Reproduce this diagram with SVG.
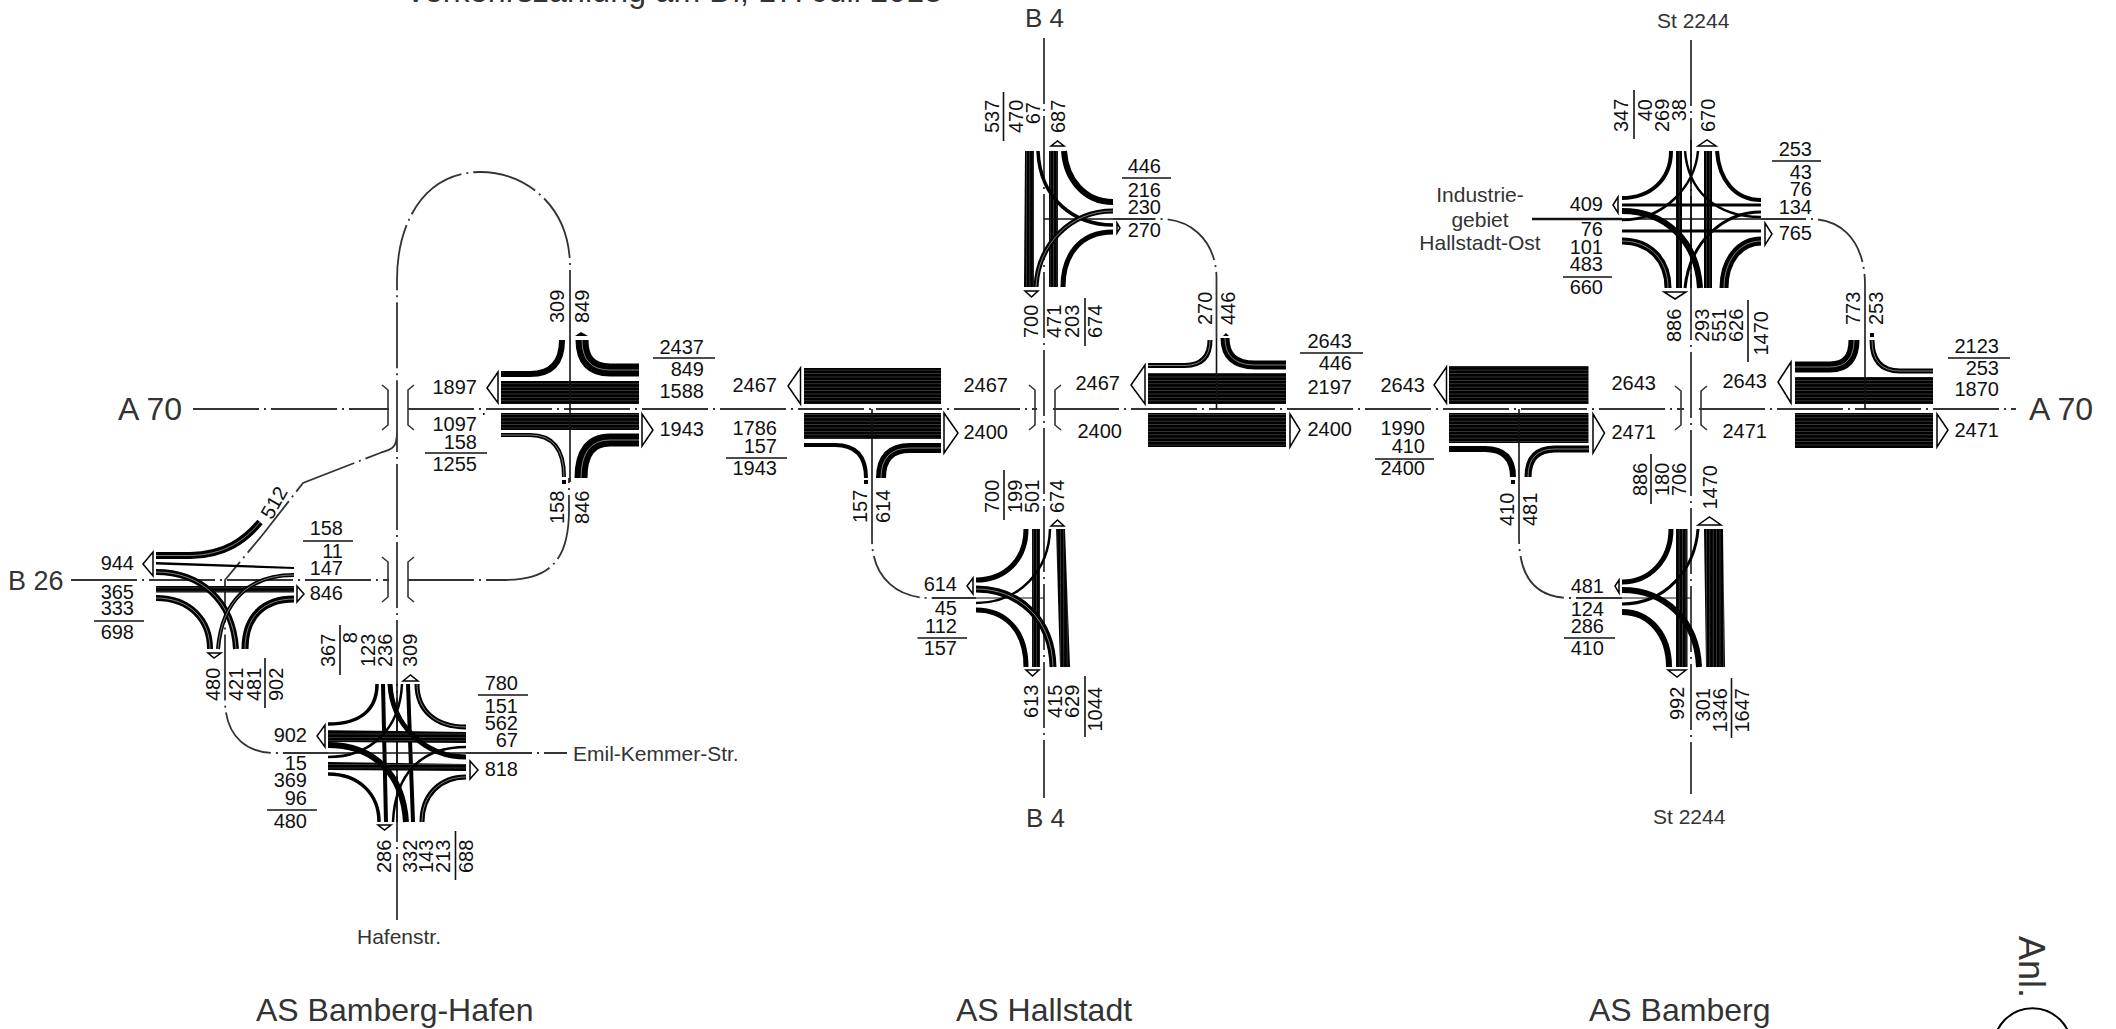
<svg xmlns="http://www.w3.org/2000/svg" width="2116" height="1029" viewBox="0 0 2116 1029">
<style>
text{font-family:"Liberation Sans",Arial,sans-serif;fill:#111;font-size:20px}
.n{fill:#333}
.l{font-size:21px;fill:#333}
.b{font-size:32px;fill:#333}
.e{text-anchor:end}
.m{text-anchor:middle}
.c{fill:none;stroke:#333;stroke-width:1.8;stroke-dasharray:66 5 2 5}
.s{fill:none;stroke:#111;stroke-width:1.6}
.g{fill:none;stroke:#333;stroke-width:1.6}
.r{fill:none;stroke:#000}
.w{fill:none;stroke:#fff;stroke-width:.7;stroke-opacity:.7}
.a{fill:#fff;stroke:#000;stroke-width:1.5}
.k{stroke:#111;stroke-width:1.6}
.h{fill:url(#hs)}
.v{fill:url(#vs)}
</style>
<defs>
<pattern id="hs" patternUnits="userSpaceOnUse" width="8" height="3.4"><rect width="8" height="3.4" fill="#000"/><rect y="2.9" width="8" height=".5" fill="#666"/></pattern>
<pattern id="vs" patternUnits="userSpaceOnUse" width="3.4" height="8"><rect width="3.4" height="8" fill="#000"/><rect x="2.9" width=".5" height="8" fill="#666"/></pattern>
</defs>
<g id="labels">
<text x="405" y="2" class="b" textLength="537">Verkehrszählung am Di, 17. Juli 2018</text>
<text x="118" y="420" class="b">A 70</text>
<text x="2029" y="420" class="b">A 70</text>
<text x="8" y="590" class="n" style="font-size:27px">B 26</text>
<text x="1025" y="27" class="n" style="font-size:26px">B 4</text>
<text x="1026" y="827" class="n" style="font-size:26px">B 4</text>
<text x="1657" y="28" class="l">St 2244</text>
<text x="1653" y="824" class="l">St 2244</text>
<text x="573" y="761" class="l">Emil-Kemmer-Str.</text>
<text x="357" y="944" class="l">Hafenstr.</text>
<text x="1480" y="202" class="l m">Industrie-</text>
<text x="1480" y="227" class="l m">gebiet</text>
<text x="1480" y="250" class="l m">Hallstadt-Ost</text>
<text x="256" y="1021" class="b">AS Bamberg-Hafen</text>
<text x="956" y="1021" class="b">AS Hallstadt</text>
<text x="1589" y="1021" class="b">AS Bamberg</text>
<text transform="rotate(90 2019 936)" x="2019" y="936" class="n" style="font-size:36px">Anl.</text>
<circle cx="2032.5" cy="1047" r="38.8" fill="none" stroke="#000" stroke-width="2"/>
<text transform="rotate(90 2022 1027)" x="2022" y="1027" style="font-size:34px">1</text>
</g>
<g id="connectors">
<path class="c" d="M193,409H389"/>
<path class="c" d="M408,409H1037"/>
<path class="c" d="M1053,409H1684"/>
<path class="c" d="M1699,409H2016"/>
<path class="c" d="M71,580H389"/>
<path class="c" d="M408,580H505C550,580 569,560 569,510V478"/>
<path class="c" d="M397,920V432C397,452 388,449 380,453L303,483L264,533L225,580V700C225,735 245,753 275,753H328"/>
<path class="c" d="M570,336V267C570,205 525,172 480,172C430,172 397,215 397,280V432"/>
<path class="c" d="M466,753H567"/>
<path class="c" d="M1044,38V798"/>
<path class="c" d="M1691,40V794"/>
<path class="c" d="M872,478V540C872,575 895,598 930,598H976"/>
<path class="c" d="M1519,478V537C1519,570 1530,598 1570,598H1622"/>
<path class="c" d="M1216.5,338V277C1216,245 1195,219 1160,219H1113"/>
<path class="c" d="M1865,340V285C1865,245 1845,219 1810,219H1761"/>
<path class="s" d="M1532,219H1622" style="stroke-width:2.4"/>
</g>
<g id="as-hafen-a70">
<path class="g" d="M382,385L388,390V425L382,430M414,385L408,390V425L414,430"/>
<path class="g" d="M382,557L388,562V597L382,602M414,557L408,562V597L414,602"/>
<rect class="h" x="501" y="381" width="138" height="23"/>
<rect class="h" x="501" y="413" width="138" height="17"/>
<path class="r" stroke-width="6" d="M501,374H530Q562,374 562,340"/>
<path class="r" stroke-width="13" d="M639,370H610Q582,370 582,340"/><path class="w" d="M639,370H610Q582,370 582,340"/>
<path class="r" stroke-width="4" d="M501,435H530Q564,435 564,477"/><path class="w" d="M501,435H530Q564,435 564,477"/>
<path class="r" stroke-width="13" d="M639,440H610Q581,440 581,478"/><path class="w" d="M639,440H610Q581,440 581,478"/>
<path class="s" d="M570,336V482"/>
<polygon class="a" points="498,372 487,388 498,403"/>
<polygon class="a" points="642,414 653,430 642,446"/>
<polygon points="575,336 581,332 588,336"/>
<rect x="562" y="480" width="4" height="4"/>
<rect x="483" y="413" width="1.6" height="2"/>
<text x="704" y="354" class="e">2437</text><path class="k" d="M653,358H715"/>
<text x="704" y="376" class="e">849</text><text x="704" y="398" class="e">1588</text><text x="704" y="436" class="e">1943</text>
<text x="477" y="394" class="e">1897</text><text x="477" y="431" class="e">1097</text><text x="477" y="449" class="e">158</text><path class="k" d="M425,453H487"/><text x="477" y="471" class="e">1255</text>
<text transform="rotate(-90 564 323)" x="564" y="323">309</text><text transform="rotate(-90 589 323)" x="589" y="323">849</text>
<text transform="rotate(-90 564 524)" x="564" y="524">158</text><text transform="rotate(-90 589 524)" x="589" y="524">846</text>
</g>
<g id="as-hafen-b26">
<rect class="h" x="156" y="586" width="138" height="6.5"/>
<path class="r" stroke-width="7" d="M156,555.5H190C225,555 245,540 260,522"/><path class="w" d="M156,555.5H190C225,555 245,540 260,522"/>
<polygon points="156,562 294,567 294,569 156,564.5"/>
<path class="r" stroke-width="6" d="M156,572C200,572 233,600 236,649"/><path class="w" d="M156,572C200,572 233,600 236,649"/>
<path class="r" stroke-width="6" d="M156,598C190,598 210,620 210,649"/><path class="w" d="M156,598C190,598 210,620 210,649"/>
<path class="r" stroke-width="4" d="M294,575C250,575 222,600 218,649"/><path class="w" d="M294,575C250,575 222,600 218,649"/>
<path class="r" stroke-width="7" d="M294,599C265,599 245,615 245,649"/><path class="w" d="M294,599C265,599 245,615 245,649"/>
<polygon class="a" points="208,653 221,653 214,658"/>
<polygon class="a" points="153,552 143,564 153,576"/>
<polygon class="a" points="297,586 304,594 297,602"/>
<text x="134" y="570" class="e">944</text><text x="134" y="599" class="e">365</text><text x="134" y="615" class="e">333</text><path class="k" d="M94,621H144"/><text x="134" y="639" class="e">698</text>
<text x="343" y="535" class="e">158</text><path class="k" d="M303,541H353"/><text x="343" y="558" class="e">11</text><text x="343" y="575" class="e">147</text><text x="343" y="600" class="e">846</text>
<text transform="rotate(-60 280 506)" x="280" y="506" class="m">512</text>
<text transform="rotate(-90 220 701)" x="220" y="701">480</text><text transform="rotate(-90 242.5 701)" x="242.5" y="701">421</text><text transform="rotate(-90 261 701)" x="261" y="701">481</text><text transform="rotate(-90 283 701)" x="283" y="701">902</text><path class="k" d="M265,658V708"/>
</g>
<g id="as-hafen-emil">
<path class="r" stroke-width="4" d="M383,684L386,822"/><path class="r" stroke-width="4" d="M408,684L413,822"/>
<path class="s" d="M328,753H466"/><path class="s" d="M397,684V822"/>
<polygon points="328,730 466,732 466,743 328,742" class="h"/>
<polygon points="328,762 466,764 466,771 328,770" class="h"/>
<path class="r" stroke-width="3.5" d="M328,724C360,724 377,710 377,684"/>
<path class="r" stroke-width="5" d="M466,727C435,727 417,710 417,684"/><path class="w" d="M466,727C435,727 417,710 417,684"/>
<path class="r" stroke-width="5" d="M466,777C440,777 422,795 422,822"/><path class="w" d="M466,777C440,777 422,795 422,822"/>
<path class="r" stroke-width="3.5" d="M328,774C360,774 379,795 379,822"/>
<path class="r" stroke-width="6" d="M328,745C375,745 403,775 406,822"/>
<path class="r" stroke-width="5" d="M390,684C392,725 425,757 466,757"/>
<path class="r" stroke-width="2.5" d="M466,747C420,747 395,775 393,822"/>
<path class="r" stroke-width="2.5" d="M328,757C370,757 400,730 402,684"/>
<polygon class="a" points="403,681 410.5,675 418,681"/>
<polygon class="a" points="325,725 317,736 325,747"/>
<polygon class="a" points="470,761 478,770 470,779"/>
<polygon class="a" points="378,825 391,825 384.5,830"/>
<text transform="rotate(-90 335 667)" x="335" y="667">367</text><path class="k" d="M340,625V675"/><text transform="rotate(-90 357 632)" x="357" y="632" class="e">8</text><text transform="rotate(-90 375 667)" x="375" y="667">123</text><text transform="rotate(-90 392 667)" x="392" y="667">236</text><text transform="rotate(-90 417 667)" x="417" y="667">309</text>
<text x="518" y="690" class="e">780</text><path class="k" d="M478,695H528"/><text x="518" y="713" class="e">151</text><text x="518" y="730" class="e">562</text><text x="518" y="747" class="e">67</text><text x="518" y="776" class="e">818</text>
<text x="307" y="742" class="e">902</text><text x="307" y="770" class="e">15</text><text x="307" y="787" class="e">369</text><text x="307" y="805" class="e">96</text><path class="k" d="M267,810H317"/><text x="307" y="828" class="e">480</text>
<text transform="rotate(-90 391 873)" x="391" y="873">286</text><text transform="rotate(-90 417 873)" x="417" y="873">332</text><text transform="rotate(-90 432.5 873)" x="432.5" y="873">143</text><text transform="rotate(-90 450 873)" x="450" y="873">213</text><path class="k" d="M455.5,831V880"/><text transform="rotate(-90 473 873)" x="473" y="873">688</text>
</g>
<g id="as-hallstadt-west">
<rect class="h" x="804" y="368" width="137" height="36"/>
<rect class="h" x="804" y="413" width="137" height="26"/>
<path class="r" stroke-width="4" d="M804,445H835Q866,445 866,478"/>
<path class="r" stroke-width="10" d="M941,448H910Q881,448 881,478"/><path class="w" d="M941,448H910Q881,448 881,478"/>
<path class="s" d="M872,409V478"/><rect x="864" y="480" width="4" height="4"/>
<polygon class="a" points="800.5,368 788,386 800.5,404"/>
<polygon class="a" points="944,413 958,433 944,453"/>
<text x="777" y="392" class="e">2467</text><text x="1008" y="392" class="e">2467</text><text x="1008" y="439" class="e">2400</text>
<text x="777" y="435" class="e">1786</text><text x="777" y="453" class="e">157</text><path class="k" d="M726,458H787"/><text x="777" y="475" class="e">1943</text>
<text transform="rotate(-90 867 523)" x="867" y="523">157</text><text transform="rotate(-90 890 523)" x="890" y="523">614</text>
</g>
<g id="as-hallstadt-east">
<path class="g" d="M1029,385L1035,390V425L1029,430M1061,385L1055,390V425L1061,430"/>
<rect class="h" x="1148" y="373" width="138" height="31"/>
<rect class="h" x="1148" y="413" width="138" height="34"/>
<path class="r" stroke-width="5" d="M1148,365.5H1185Q1210,365 1210,340"/><path class="w" d="M1148,365.5H1185Q1210,365 1210,340"/>
<path class="r" stroke-width="9" d="M1286,365H1255Q1225,365 1225,338"/><path class="w" d="M1286,365H1255Q1225,365 1225,338"/>
<path class="s" d="M1216.5,338V409"/>
<polygon points="1223,336 1226,333 1229,336"/>
<polygon class="a" points="1145,365 1131,385 1145,404"/>
<polygon class="a" points="1290,414 1300,430 1290,447"/>
<text x="1120" y="390" class="e">2467</text><text x="1122" y="438" class="e">2400</text>
<text x="1352" y="348" class="e">2643</text><path class="k" d="M1300,353H1363"/><text x="1352" y="370" class="e">446</text><text x="1352" y="394" class="e">2197</text><text x="1352" y="436" class="e">2400</text>
<text transform="rotate(-90 1212 325)" x="1212" y="325">270</text><text transform="rotate(-90 1235 325)" x="1235" y="325">446</text>
</g>
<g id="b4-north">
<polygon class="v" points="1025,151 1034,151 1034,287 1024,287"/>
<rect class="v" x="1049" y="151" width="9" height="136"/>
<path class="s" d="M1044,219H1113"/>
<path class="r" stroke-width="3.5" d="M1038,151C1040,200 1075,225 1113,225"/>
<path class="r" stroke-width="5" d="M1036,287C1038,245 1070,211 1113,211"/><path class="w" d="M1036,287C1038,245 1070,211 1113,211"/>
<path class="r" stroke-width="6" d="M1064,151C1066,180 1085,202 1113,202"/>
<path class="r" stroke-width="5" d="M1063,287C1063,255 1080,232 1113,232"/>
<polygon class="a" points="1051,146 1057.5,141 1064,146"/>
<polygon class="a" points="1025,291 1038,291 1031.5,297"/>
<polygon class="a" points="1117,223 1120,228 1117,233"/>
<text transform="rotate(-90 999 133)" x="999" y="133">537</text><path class="k" d="M1003.5,92V141"/><text transform="rotate(-90 1022.5 133)" x="1022.5" y="133">470</text><text transform="rotate(-90 1040 102)" x="1040" y="102" class="e">67</text><text transform="rotate(-90 1065 133)" x="1065" y="133">687</text>
<text transform="rotate(-90 1038 338)" x="1038" y="338">700</text><text transform="rotate(-90 1061 338)" x="1061" y="338">471</text><text transform="rotate(-90 1079 338)" x="1079" y="338">203</text><path class="k" d="M1085,298V346"/><text transform="rotate(-90 1102 338)" x="1102" y="338">674</text>
<text x="1161" y="173" class="e">446</text><path class="k" d="M1122,178H1171"/><text x="1161" y="197" class="e">216</text><text x="1161" y="214" class="e">230</text><text x="1161" y="237" class="e">270</text>
</g>
<g id="b4-south">
<rect class="v" x="1032" y="529" width="8" height="138"/>
<polygon class="v" points="1056,529 1065,529 1070,667 1060,667"/>
<path class="s" d="M976,598H1044" style="stroke-width:1"/>
<path class="r" stroke-width="5" d="M976,580C1005,580 1026,560 1026,529"/>
<path class="r" stroke-width="2.5" d="M1050,529C1049,570 1020,603 976,603"/>
<path class="r" stroke-width="7" d="M976,589C1020,589 1052,620 1053,667"/><path class="w" d="M976,589C1020,589 1052,620 1053,667"/>
<path class="r" stroke-width="5" d="M976,610C1005,610 1026,630 1026,667"/>
<polygon class="a" points="1051,526 1057.5,520 1064,526"/>
<polygon class="a" points="1026,670 1039,670 1032.5,676"/>
<polygon class="a" points="973,578 967,586 973,594"/>
<text transform="rotate(-90 999 513)" x="999" y="513">700</text><path class="k" d="M1004,470V520"/><text transform="rotate(-90 1022 513)" x="1022" y="513">199</text><text transform="rotate(-90 1039 513)" x="1039" y="513">501</text><text transform="rotate(-90 1064 513)" x="1064" y="513">674</text>
<text x="957" y="591" class="e">614</text><text x="957" y="615" class="e">45</text><text x="957" y="633" class="e">112</text><path class="k" d="M917.5,638H967"/><text x="957" y="655" class="e">157</text>
<text transform="rotate(-90 1038 718)" x="1038" y="718">613</text><text transform="rotate(-90 1062 718)" x="1062" y="718">415</text><text transform="rotate(-90 1079 718)" x="1079" y="718">629</text><path class="k" d="M1085,676V737"/><text transform="rotate(-90 1102 687)" x="1102" y="687" class="e">1044</text>
</g>
<g id="as-bamberg-west">
<path class="g" d="M1675,386L1681,391V425L1675,430M1707,386L1701,391V425L1707,430"/>
<rect class="h" x="1449" y="366" width="139.500" height="38"/>
<rect class="h" x="1449" y="413" width="139.500" height="30"/>
<path class="r" stroke-width="6" d="M1449,449H1485Q1513,449 1513,477"/>
<path class="r" stroke-width="7" d="M1589,449H1555Q1528,449 1528,477"/><path class="w" d="M1589,449H1555Q1528,449 1528,477"/>
<path class="s" d="M1519,409V478"/><rect x="1511" y="480" width="4" height="4"/>
<polygon class="a" points="1446.500,367 1434,385 1446.500,403"/>
<polygon class="a" points="1593,414 1604.500,433 1593,453"/>
<text x="1425" y="392" class="e">2643</text><text x="1425" y="435" class="e">1990</text><text x="1425" y="453" class="e">410</text><path class="k" d="M1375,459H1434"/><text x="1425" y="475" class="e">2400</text>
<text x="1656" y="390" class="e">2643</text><text x="1656" y="439" class="e">2471</text>
<text transform="rotate(-90 1514 526)" x="1514" y="526">410</text><text transform="rotate(-90 1537 526)" x="1537" y="526">481</text>
</g>
<g id="as-bamberg-east">
<rect class="h" x="1795" y="377" width="138" height="27"/>
<rect class="h" x="1795" y="413" width="138" height="35"/>
<path class="r" stroke-width="11" d="M1795,367H1830Q1854,367 1854,340"/><path class="w" d="M1795,367H1830Q1854,367 1854,340"/>
<path class="r" stroke-width="5" d="M1933,371H1900Q1872,371 1872,340"/><path class="w" d="M1933,371H1900Q1872,371 1872,340"/>
<path class="s" d="M1865,340V409"/><rect x="1870" y="333" width="4" height="4"/>
<polygon class="a" points="1791,362 1778,382 1791,403"/>
<polygon class="a" points="1937,414 1948,430 1937,447"/>
<text x="1767" y="388" class="e">2643</text><text x="1767" y="438" class="e">2471</text>
<text x="1999" y="353" class="e">2123</text><path class="k" d="M1948,358H2010"/><text x="1999" y="375" class="e">253</text><text x="1999" y="396" class="e">1870</text><text x="1999" y="437" class="e">2471</text>
<text transform="rotate(-90 1860 325)" x="1860" y="325">773</text><text transform="rotate(-90 1883 325)" x="1883" y="325">253</text>
</g>
<g id="st2244-north">
<rect class="v" x="1676" y="151" width="6" height="137"/>
<rect class="v" x="1704" y="151" width="8" height="137"/>
<path class="s" d="M1622,219H1761"/><path class="s" d="M1691,140V288"/>
<path class="r" stroke-width="3" d="M1622,205H1761"/><path class="r" stroke-width="3" d="M1622,231H1761"/>
<path class="r" stroke-width="4" d="M1622,198C1650,198 1671,180 1671,151"/>
<path class="r" stroke-width="2.5" d="M1685,151C1688,190 1715,217 1761,217"/>
<path class="r" stroke-width="2.5" d="M1698,151C1695,185 1665,220 1622,220"/>
<path class="r" stroke-width="4" d="M1717,151C1719,180 1735,200 1761,200"/>
<path class="r" stroke-width="6" d="M1622,211C1665,211 1697,240 1700,288"/>
<path class="r" stroke-width="3" d="M1761,212C1725,212 1690,240 1685,288"/>
<path class="r" stroke-width="7" d="M1622,241C1650,241 1668,260 1668,288"/><path class="w" d="M1622,241C1650,241 1668,260 1668,288"/>
<path class="r" stroke-width="9" d="M1761,241C1740,241 1724,260 1724,288"/><path class="w" d="M1761,241C1740,241 1724,260 1724,288"/>
<polygon class="a" points="1698,146 1707,140 1716,146"/>
<polygon class="a" points="1618,197 1613,205 1618,213"/>
<polygon class="a" points="1765,223 1772,234 1765,245"/>
<polygon class="a" points="1664,292 1686,292 1675,299"/>
<text transform="rotate(-90 1628 132)" x="1628" y="132">347</text><path class="k" d="M1634,90V139"/><text transform="rotate(-90 1652 99)" x="1652" y="99" class="e">40</text><text transform="rotate(-90 1669 132)" x="1669" y="132">269</text><text transform="rotate(-90 1686 99)" x="1686" y="99" class="e">38</text><text transform="rotate(-90 1715 132)" x="1715" y="132">670</text>
<text x="1812" y="156" class="e">253</text><path class="k" d="M1772,161H1821"/><text x="1812" y="179" class="e">43</text><text x="1812" y="196" class="e">76</text><text x="1812" y="214" class="e">134</text><text x="1812" y="240" class="e">765</text>
<text x="1603" y="211" class="e">409</text><text x="1603" y="236" class="e">76</text><text x="1603" y="254" class="e">101</text><text x="1603" y="271" class="e">483</text><path class="k" d="M1563,277H1612"/><text x="1603" y="294" class="e">660</text>
<text transform="rotate(-90 1681 342)" x="1681" y="342">886</text><text transform="rotate(-90 1709 342)" x="1709" y="342">293</text><text transform="rotate(-90 1726 342)" x="1726" y="342">551</text><text transform="rotate(-90 1743 342)" x="1743" y="342">626</text><path class="k" d="M1748,300V362"/><text transform="rotate(-90 1768 311)" x="1768" y="311" class="e">1470</text>
</g>
<g id="st2244-south">
<rect class="v" x="1676" y="529" width="11.500" height="138"/>
<polygon class="v" points="1704,529 1723,529 1725,667 1706,667"/>
<path class="s" d="M1622,598H1691" style="stroke-width:1"/>
<path class="r" stroke-width="5" d="M1622,582C1650,582 1671,560 1671,529"/>
<path class="r" stroke-width="3" d="M1698,529C1695,570 1665,604 1622,604"/>
<path class="r" stroke-width="6" d="M1622,590C1665,590 1697,620 1699,667"/>
<path class="r" stroke-width="6" d="M1622,612C1650,612 1669,635 1669,667"/>
<polygon class="a" points="1698,525 1709.500,517 1721,525"/>
<polygon class="a" points="1619,580 1615,586 1619,593"/>
<polygon class="a" points="1668,670 1686,670 1677,677"/>
<text transform="rotate(-90 1647 496)" x="1647" y="496">886</text><path class="k" d="M1651,454V504"/><text transform="rotate(-90 1669 496)" x="1669" y="496">180</text><text transform="rotate(-90 1686 496)" x="1686" y="496">706</text><text transform="rotate(-90 1717 465)" x="1717" y="465" class="e">1470</text>
<text x="1604" y="593" class="e">481</text><text x="1604" y="616" class="e">124</text><text x="1604" y="633" class="e">286</text><path class="k" d="M1564,638H1615"/><text x="1604" y="655" class="e">410</text>
<text transform="rotate(-90 1684 720)" x="1684" y="720">992</text><text transform="rotate(-90 1709.5 688)" x="1709.5" y="688" class="e">301</text><text transform="rotate(-90 1727 688)" x="1727" y="688" class="e">1346</text><path class="k" d="M1731.500,678V738"/><text transform="rotate(-90 1749 688)" x="1749" y="688" class="e">1647</text>
</g>
</svg>
